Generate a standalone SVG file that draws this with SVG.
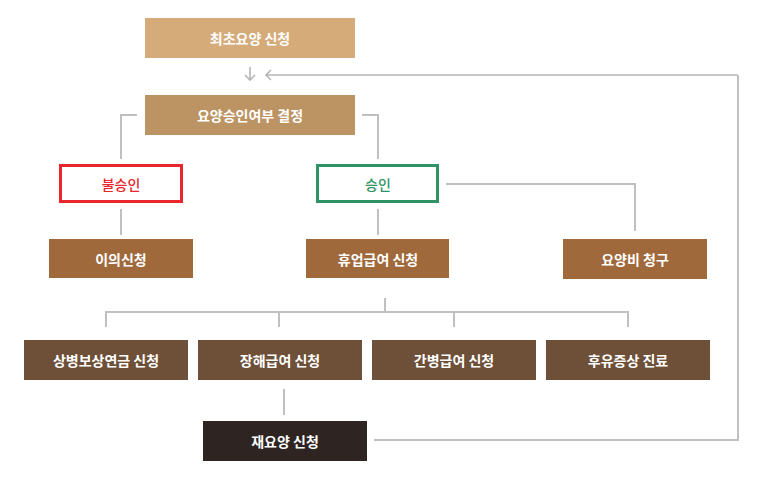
<svg xmlns="http://www.w3.org/2000/svg" width="768" height="484" viewBox="0 0 768 484">
<style>
.t{font-family:"Noto Sans CJK KR","Noto Sans",sans-serif;font-size:14px;font-weight:bold;fill:#ffffff;text-anchor:middle;dominant-baseline:central}
.c{fill:none;stroke:#c0c0c0;stroke-width:2}
.a{fill:none;stroke:#b5b5b5;stroke-width:1.6}
</style>
<rect width="768" height="484" fill="#ffffff"/>
<g id="connectors">
<path class="a" d="M250 67V80M245 75L250 80L255 75"/>
<path class="a" d="M738 75H266M271 70L266 75L271 80"/>
<path class="c" d="M738 75V440H374"/>
<path class="c" d="M137 115H121V159"/>
<path class="c" d="M362 115H378V159"/>
<path class="c" d="M121 209V235"/>
<path class="c" d="M378 209V235"/>
<path class="c" d="M446 184H635V231"/>
<path class="c" d="M385 298V312"/>
<path class="c" d="M106 327V312H628V327"/>
<path class="c" d="M279 312V327"/>
<path class="c" d="M454 312V327"/>
<path class="c" d="M284 389V415"/>
</g>
<g id="n1"><rect x="145" y="18" width="210" height="40" fill="#d5ab79"/><text class="t" x="250" y="38">최초요양 신청</text></g>
<g id="n2"><rect x="145" y="95" width="210" height="40" fill="#bc9362"/><text class="t" x="250" y="115">요양승인여부 결정</text></g>
<g id="n3"><rect x="60.5" y="165.5" width="121" height="36" fill="#ffffff" stroke="#e8262c" stroke-width="3"/><text class="t" x="121" y="184" style="fill:#e8262c;font-weight:500">불승인</text></g>
<g id="n4"><rect x="317.5" y="165.5" width="120" height="36" fill="#ffffff" stroke="#2e9466" stroke-width="3"/><text class="t" x="378" y="184" style="fill:#2e9466;font-weight:500">승인</text></g>
<g id="n5"><rect x="49" y="239" width="144" height="39" fill="#a0693c"/><text class="t" x="121" y="258.5">이의신청</text></g>
<g id="n6"><rect x="306" y="239" width="143" height="39" fill="#a0693c"/><text class="t" x="378" y="258.5">휴업급여 신청</text></g>
<g id="n7"><rect x="563" y="239" width="144" height="40" fill="#a0693c"/><text class="t" x="635" y="259">요양비 청구</text></g>
<g id="n8"><rect x="24" y="340" width="164" height="40" fill="#6e5039"/><text class="t" x="106" y="360">상병보상연금 신청</text></g>
<g id="n9"><rect x="198" y="340" width="164" height="40" fill="#6e5039"/><text class="t" x="280" y="360">장해급여 신청</text></g>
<g id="n10"><rect x="372" y="340" width="164" height="40" fill="#6e5039"/><text class="t" x="454" y="360">간병급여 신청</text></g>
<g id="n11"><rect x="546" y="340" width="164" height="40" fill="#6e5039"/><text class="t" x="628" y="360">후유증상 진료</text></g>
<g id="n12"><rect x="203" y="421" width="164" height="40" fill="#2e2522"/><text class="t" x="285" y="441">재요양 신청</text></g>
</svg>
